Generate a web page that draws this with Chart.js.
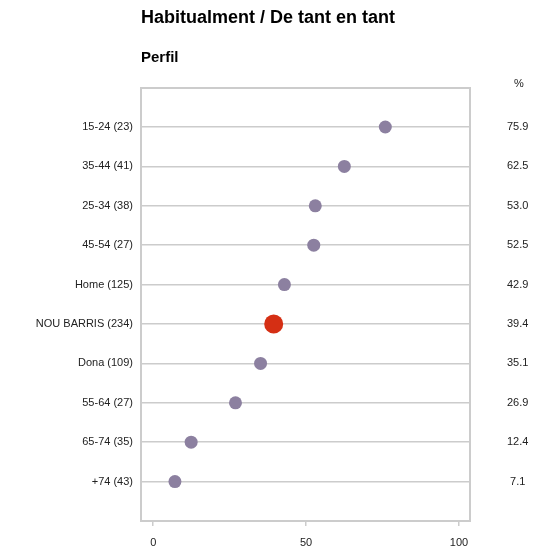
<!DOCTYPE html>
<html lang="ca">
  <head>
    <meta charset="UTF-8" />
    <script src="https://cdn.jsdelivr.net/npm/chart.js@4.4.0/dist/chart.umd.min.js"></script>
    <title>Habitualment / De tant en tant</title>
    <style>
      body {
        margin: 0;
        padding: 0;
        background: white;
      }

      .container {
        width: 550px;
        height: 549px;
      }
    </style>
  </head>
  <body>
    <div class="container">
      <canvas id="perfil"></canvas>
    </div>
    <script>
      const labels = ['15-24 (23)', '35-44 (41)', '25-34 (38)', '45-54 (27)', 'Home (125)', 'NOU BARRIS (234)', 'Dona (109)', '55-64 (27)', '65-74 (35)', '+74 (43)']
      const values = [75.9, 62.5, 53.0, 52.5, 42.9, 39.4, 35.1, 26.9, 12.4, 7.1]
      const xTicks = [0, 50, 100]
      const highlight = 'NOU BARRIS (234)'

      const font = "'Liberation Sans', Arial, sans-serif"
      const frame = '#cccccc'
      const rowTicks = (scale) => {
        scale.ticks = labels.map((l, i) => ({ value: i + 1 }))
      }
      // fixed side widths, no extra label padding above/below the plot
      const sideFit = (width) => (scale) => {
        scale.width = width
        scale.paddingTop = 0
        scale.paddingBottom = 0
      }

      const percentLabel = {
        id: 'percentLabel',
        afterDraw(chart) {
          const ctx = chart.ctx
          const y2 = chart.scales.y2
          ctx.save()
          ctx.font = '11px ' + font
          ctx.fillStyle = '#222'
          ctx.textAlign = 'center'
          ctx.textBaseline = 'middle'
          ctx.fillText('%', y2.left + 49, chart.chartArea.top - 4)
          ctx.restore()
        },
      }

      new Chart(document.getElementById('perfil').getContext('2d'), {
        type: 'scatter',
        data: {
          datasets: [
            {
              data: values.map((v, i) => ({ x: v, y: i + 1 })),
              backgroundColor: labels.map((l) => (l === highlight ? '#d52f14' : '#8c80a0')),
              borderWidth: 0,
              pointRadius: labels.map((l) => (l === highlight ? 9.5 : 6.5)),
              pointHoverRadius: labels.map((l) => (l === highlight ? 9.5 : 6.5)),
            },
          ],
        },
        plugins: [percentLabel],
        options: {
          responsive: true,
          maintainAspectRatio: false,
          animation: false,
          layout: { padding: 0 },
          plugins: {
            legend: { display: false },
            tooltip: { enabled: false },
            title: {
              display: true,
              text: 'Habitualment / De tant en tant',
              align: 'start',
              fullSize: false,
              color: '#000',
              font: { family: font, size: 18, weight: 'bold' },
              padding: { top: 7, bottom: 10 },
            },
            subtitle: {
              display: true,
              text: 'Perfil',
              align: 'start',
              fullSize: false,
              color: '#000',
              font: { family: font, size: 15, weight: 'bold' },
              padding: { top: 10, bottom: 21 },
            },
          },
          scales: {
            x: {
              type: 'linear',
              min: -4,
              max: 103.6,
              afterBuildTicks: (scale) => {
                scale.ticks = xTicks.map((v) => ({ value: v }))
              },
              afterFit: (scale) => {
                scale.height = 28
                scale.paddingLeft = 0
                scale.paddingRight = 0
              },
              grid: {
                drawOnChartArea: false,
                drawTicks: true,
                tickLength: 5,
                color: frame,
                lineWidth: 1.5,
              },
              border: { display: true, color: frame, width: 2 },
              ticks: {
                color: '#222',
                font: { family: font, size: 11 },
                padding: 10,
                maxRotation: 0,
              },
            },
            x2: {
              type: 'linear',
              position: 'top',
              min: -4,
              max: 103.6,
              grid: { display: false, drawTicks: false },
              border: { display: true, color: frame, width: 2 },
              ticks: { display: false },
            },
            y: {
              type: 'linear',
              reverse: true,
              min: 0,
              max: 11,
              afterBuildTicks: rowTicks,
              afterFit: sideFit(141),
              grid: { color: frame, lineWidth: 1.5, drawTicks: false },
              border: { display: true, color: frame, width: 2 },
              ticks: {
                color: '#222',
                font: { family: font, size: 11 },
                padding: 8,
                callback: (v) => labels[v - 1],
              },
            },
            y2: {
              type: 'linear',
              position: 'right',
              reverse: true,
              min: 0,
              max: 11,
              afterBuildTicks: rowTicks,
              afterFit: sideFit(80),
              grid: { display: false, drawTicks: false },
              border: { display: true, color: frame, width: 2 },
              ticks: {
                color: '#222',
                font: { family: font, size: 11 },
                padding: 37,
                crossAlign: 'center',
                callback: (v) => values[v - 1].toFixed(1),
              },
            },
          },
        },
      })
    </script>
  </body>
</html>
